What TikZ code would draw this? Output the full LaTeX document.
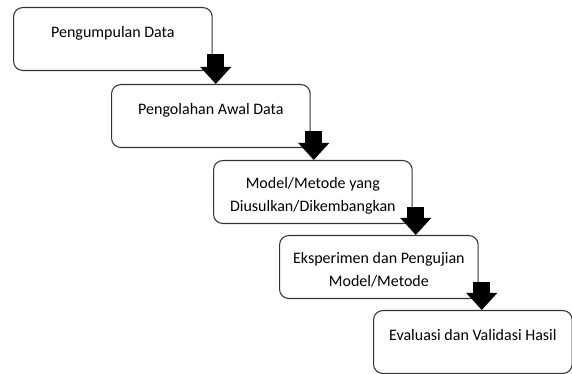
\documentclass[tikz,border=0pt]{standalone}
\usepackage{fontspec}
\setmainfont{Carlito}
\usetikzlibrary{arrows.meta,calc}

\begin{document}
\begin{tikzpicture}[x=0.75pt,y=-0.75pt,
    stage/.style={draw=black!80,line width=0.8pt,rounded corners=7pt,fill=white,
      anchor=north west,minimum width=149pt,minimum height=47.25pt,
      align=center,inner sep=0pt,font=\fontsize{12}{17}\selectfont},
    oneline/.style={text height=9pt,text depth=11pt},
    twoline/.style={text height=30.5pt,text depth=2pt},
    blockarrow/.style={line width=12.75pt,-{Triangle[length=12.75pt,width=22.5pt]}}]
    \useasboundingbox (0,0) rectangle (572,374);
    % stages of the research
    \node[stage,oneline] (s1) at (13,7) {Pengumpulan Data};
    \node[stage,oneline] (s2) at (111,84) {Pengolahan Awal Data};
    \node[stage,twoline] (s3) at (213,160) {Model/Metode yang\\Diusulkan/Dikembangkan};
    \node[stage,twoline] (s4) at (279,235) {Eksperimen dan Pengujian\\Model/Metode};
    \node[stage,oneline] (s5) at (373,310) {Evaluasi dan Validasi Hasil};
    % block arrows
    \draw[blockarrow] ($(s1.south east)+(3,-17)$) -- ($(s1.south east |- s2.north)+(3,0)$);
    \draw[blockarrow] ($(s2.south east)+(3,-17)$) -- ($(s2.south east |- s3.north)+(3,0)$);
    \draw[blockarrow] ($(s3.south east)+(3,-17)$) -- ($(s3.south east |- s4.north)+(3,0)$);
    \draw[blockarrow] ($(s4.south east)+(3,-17)$) -- ($(s4.south east |- s5.north)+(3,0)$);
\end{tikzpicture}
\end{document}
